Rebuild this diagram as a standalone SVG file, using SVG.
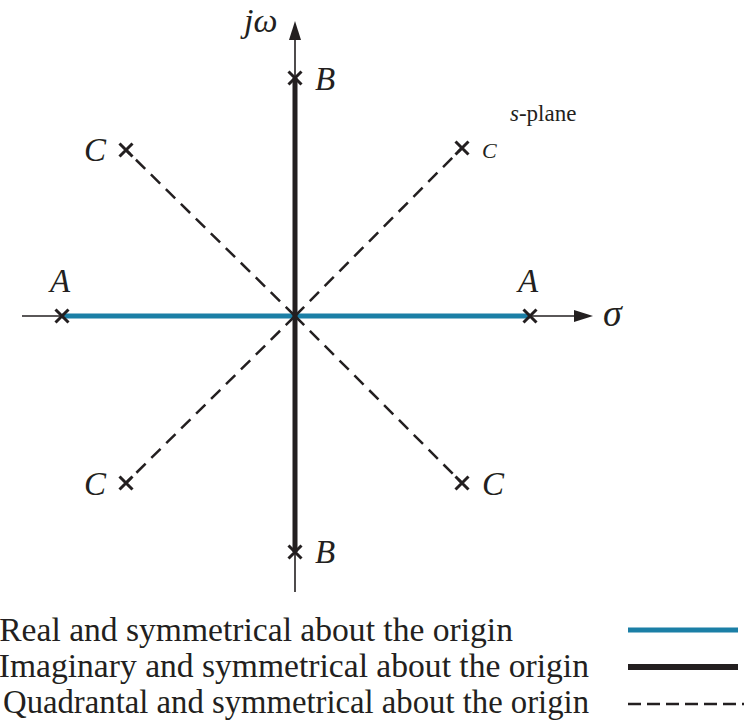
<svg xmlns="http://www.w3.org/2000/svg" width="744" height="723" viewBox="0 0 744 723">
<style>
.t{font-family:"Liberation Serif",serif;fill:#231f20}
.i{font-style:italic}
.x{stroke:#231f20;stroke-width:3;fill:none}
.d{stroke:#231f20;stroke-width:2.5;stroke-dasharray:13 8;fill:none}
.ax{stroke:#231f20;stroke-width:1.6;fill:none}
</style>
<defs>
<g id="xm"><path class="x" d="M-6.5,-6.5 L6.5,6.5 M6.5,-6.5 L-6.5,6.5"/></g>
</defs>
<rect width="744" height="723" fill="#fff"/>
<g id="connectors">
<line class="ax" x1="22" y1="316" x2="578" y2="316"/>
<polygon points="593,316 574,310 574,322" fill="#231f20"/>
<line class="ax" x1="295" y1="592" x2="295" y2="36"/>
<polygon points="295,21 289,40 301,40" fill="#231f20"/>
<line x1="62" y1="316" x2="530" y2="316" stroke="#1b7fa6" stroke-width="5"/>
<line x1="295" y1="78" x2="295" y2="552" stroke="#231f20" stroke-width="5"/>
<line class="d" x1="295" y1="316" x2="126" y2="150"/>
<line class="d" x1="295" y1="316" x2="462" y2="148"/>
<line class="d" x1="295" y1="316" x2="126" y2="483"/>
<line class="d" x1="295" y1="316" x2="462" y2="483"/>
</g>
<g id="node-A-left"><use href="#xm" x="62" y="316"/><text class="t i" x="50" y="292" font-size="33">A</text></g>
<g id="node-A-right"><use href="#xm" x="530" y="316"/><text class="t i" x="518" y="292" font-size="33">A</text></g>
<g id="node-B-top"><use href="#xm" x="295" y="78"/><text class="t i" x="315" y="90" font-size="33">B</text></g>
<g id="node-B-bottom"><use href="#xm" x="295" y="552"/><text class="t i" x="315" y="563" font-size="33">B</text></g>
<g id="node-C-ul"><use href="#xm" x="126" y="150"/><text class="t i" x="84" y="161" font-size="33">C</text></g>
<g id="node-C-ur"><use href="#xm" x="462" y="148"/><text class="t i" x="482" y="158" font-size="22">C</text></g>
<g id="node-C-ll"><use href="#xm" x="126" y="483"/><text class="t i" x="84" y="495" font-size="33">C</text></g>
<g id="node-C-lr"><use href="#xm" x="462" y="483"/><text class="t i" x="482" y="495" font-size="33">C</text></g>
<g id="labels">
<text class="t i" x="244" y="32" font-size="34">jω</text>
<text class="t i" x="603" y="326" font-size="38">σ</text>
<text class="t" x="510" y="121" font-size="23"><tspan font-style="italic">s</tspan>-plane</text>
</g>
<g id="legend">
<text class="t" x="513" y="641" font-size="33.6" text-anchor="end">Real and symmetrical about the origin</text>
<text class="t" x="589" y="677" font-size="33.6" text-anchor="end">Imaginary and symmetrical about the origin</text>
<text class="t" x="589" y="713" font-size="33.6" text-anchor="end" textLength="586" lengthAdjust="spacingAndGlyphs">Quadrantal and symmetrical about the origin</text>
<line x1="628" y1="630" x2="738" y2="630" stroke="#1b7fa6" stroke-width="5"/>
<line x1="628" y1="667" x2="738" y2="667" stroke="#231f20" stroke-width="6"/>
<line x1="628" y1="704" x2="744" y2="704" stroke="#231f20" stroke-width="2.5" stroke-dasharray="13 6"/>
</g>
</svg>
